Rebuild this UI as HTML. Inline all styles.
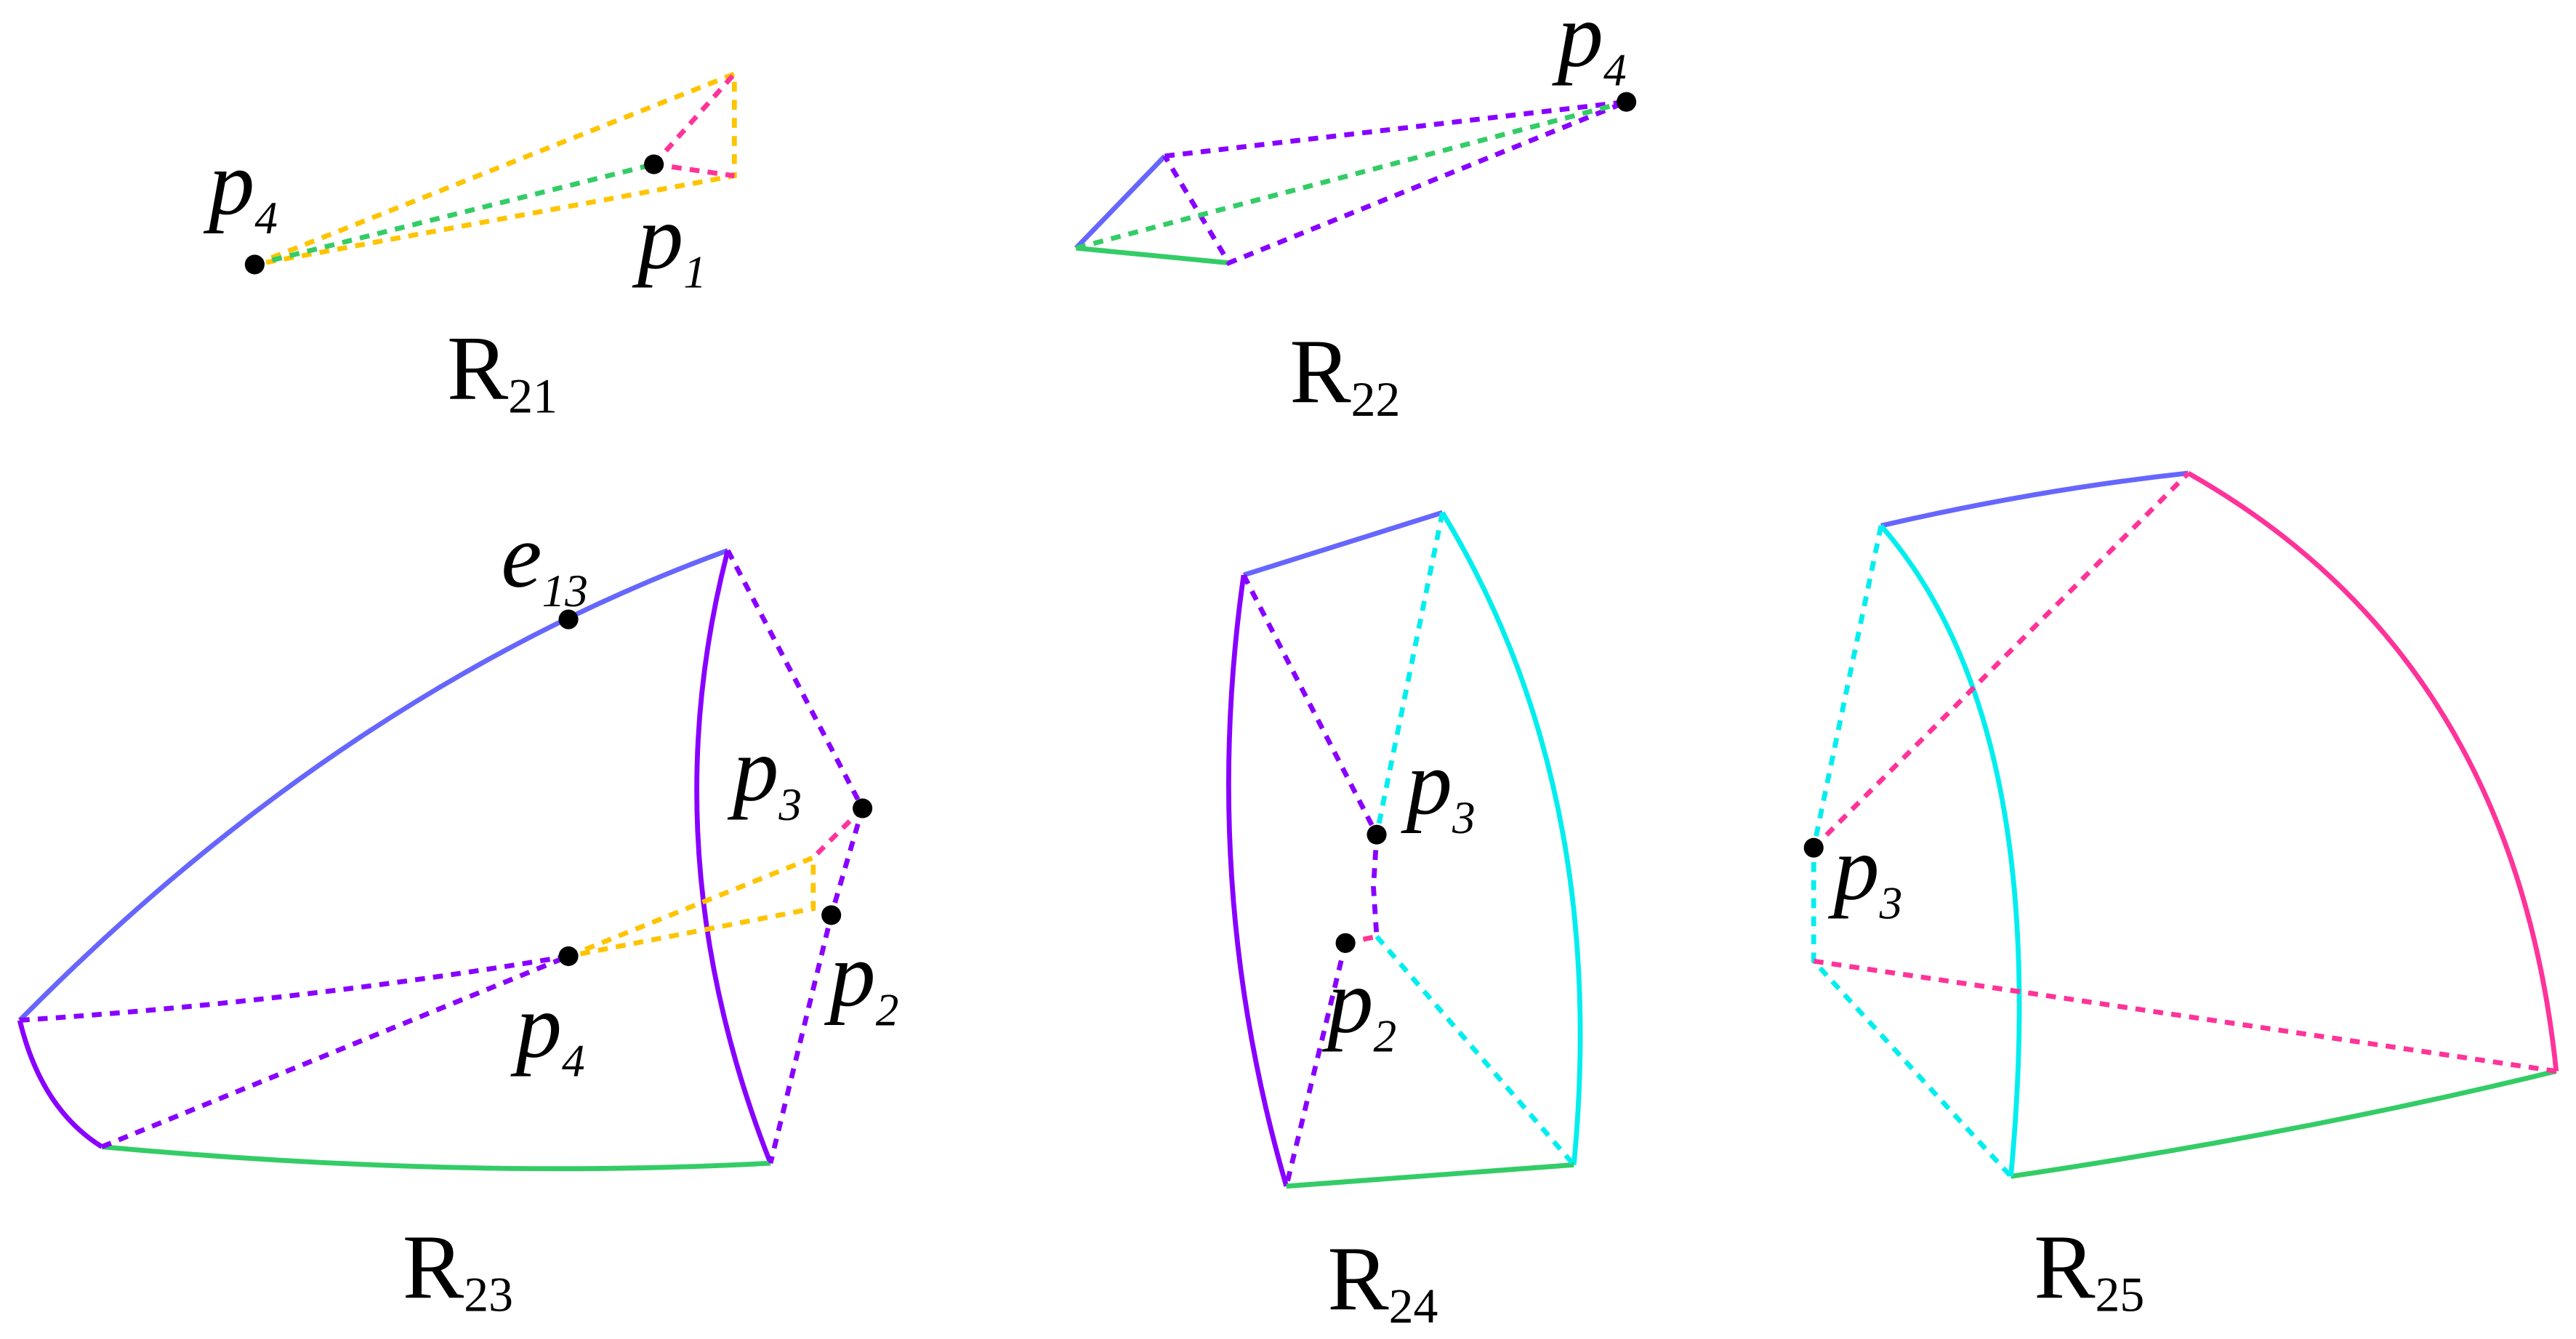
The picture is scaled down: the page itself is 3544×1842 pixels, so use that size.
<!DOCTYPE html>
<html><head><meta charset="utf-8"><style>
html,body{margin:0;padding:0;background:#fff;}
svg{display:block;}
</style></head><body>
<svg width="3544" height="1842" viewBox="0 0 1568 815" xmlns="http://www.w3.org/2000/svg">
<g fill="none" stroke-width="3">
<!-- R21 -->
<g stroke-dasharray="6,5">
<path d="M155,161 L447,45 L447,107 Z" stroke="#ffc400"/>
<path d="M398,100 L447,45 M398,100 L447,107" stroke="#ff3399"/>
<path d="M155,161 L398,100" stroke="#33cc66"/>
</g>
<!-- R22 -->
<path d="M655,151 L709,95" stroke="#6666ff"/>
<path d="M655,151 L748,160" stroke="#33cc66"/>
<g stroke-dasharray="6,5">
<path d="M709,95 L990,62 L748,160 L709,95" stroke="#8800ff"/>
<path d="M655,151 L990,62" stroke="#33cc66"/>
</g>
<!-- R23 -->
<path d="M12,621 Q210,420 443,335" stroke="#6666ff"/>
<path d="M443,335 Q395,520 469,708" stroke="#8800ff"/>
<path d="M12,621 Q25,675 62,698" stroke="#8800ff"/>
<path d="M62,698 Q280,718 469,708" stroke="#33cc66"/>
<g stroke-dasharray="6,5">
<path d="M443,335 L525,492 L506,557 L469,708" stroke="#8800ff"/>
<path d="M525,492 L495,522" stroke="#ff3399"/>
<path d="M346,582 L495,522 L495,553 Z" stroke="#ffc400"/>
<path d="M12,621 Q180,610 346,582 M62,698 L346,582" stroke="#8800ff"/>
</g>
<!-- R24 -->
<path d="M757,350 L878,312" stroke="#6666ff"/>
<path d="M878,312 Q980,480 958,709" stroke="#00eeee"/>
<path d="M757,350 Q730,540 783,722" stroke="#8800ff"/>
<path d="M783,722 L958,709" stroke="#33cc66"/>
<g stroke-dasharray="6,5">
<path d="M757,350 L838,508 L836,540 L838,570 M819,574 L783,722" stroke="#8800ff"/>
<path d="M878,312 L838,508 M838,570 L958,709" stroke="#00eeee"/>
<path d="M819,574 L838,570" stroke="#ff3399"/>
</g>
<!-- R25 -->
<path d="M1145,320 Q1240,298 1332,288" stroke="#6666ff"/>
<path d="M1332,288 Q1530,400 1556,652" stroke="#ff3399"/>
<path d="M1224,716 Q1400,690 1556,652" stroke="#33cc66"/>
<path d="M1145,320 Q1250,440 1224,716" stroke="#00eeee"/>
<g stroke-dasharray="6,5">
<path d="M1145,320 L1104,516 L1104,585 L1224,716" stroke="#00eeee"/>
<path d="M1104,516 L1332,288 M1104,585 L1556,652" stroke="#ff3399"/>
</g>
</g>
<g fill="#000">
<circle cx="155" cy="161" r="6"/><circle cx="398" cy="100" r="6"/>
<circle cx="990" cy="62" r="6"/>
<circle cx="346" cy="377" r="6"/><circle cx="525" cy="492" r="6"/><circle cx="506" cy="557" r="6"/><circle cx="346" cy="582" r="6"/>
<circle cx="838" cy="508" r="6"/><circle cx="819" cy="574" r="6"/>
<circle cx="1104" cy="516" r="6"/>
</g>
<g font-size="56" font-family="'Liberation Serif', 'Times New Roman', serif" fill="#000">
<text font-style="italic" x="127" y="130">p<tspan font-size="28" dy="12">4</tspan></text>
<text font-style="italic" x="388" y="163">p<tspan font-size="28" dy="12">1</tspan></text>
<text x="272" y="243">R<tspan font-size="30" dy="8">21</tspan></text>
<text font-style="italic" x="948" y="40">p<tspan font-size="28" dy="12">4</tspan></text>
<text x="785" y="245">R<tspan font-size="30" dy="8">22</tspan></text>
<text font-style="italic" x="305" y="357">e<tspan font-size="28" dy="12">13</tspan></text>
<text font-style="italic" x="446" y="487">p<tspan font-size="28" dy="12">3</tspan></text>
<text font-style="italic" x="505" y="612">p<tspan font-size="28" dy="12">2</tspan></text>
<text font-style="italic" x="314" y="643">p<tspan font-size="28" dy="12">4</tspan></text>
<text x="245" y="790">R<tspan font-size="30" dy="8">23</tspan></text>
<text font-style="italic" x="856" y="495">p<tspan font-size="28" dy="12">3</tspan></text>
<text font-style="italic" x="808" y="628">p<tspan font-size="28" dy="12">2</tspan></text>
<text x="808" y="797">R<tspan font-size="30" dy="8">24</tspan></text>
<text font-style="italic" x="1116" y="547">p<tspan font-size="28" dy="12">3</tspan></text>
<text x="1238" y="790">R<tspan font-size="30" dy="8">25</tspan></text>
</g>
</svg>
</body></html>
